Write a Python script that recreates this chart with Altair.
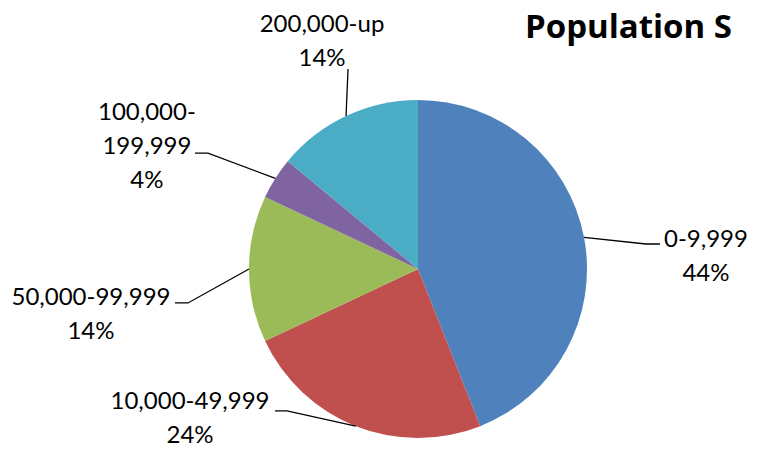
import math
import altair as alt
import pandas as pd

# ---- data ----
categories = ["0-9,999", "10,000-49,999", "50,000-99,999", "100,000-199,999", "200,000-up"]
shares = [44, 24, 14, 4, 14]  # percent
label_text = ["0-9,999", "10,000-49,999", "50,000-99,999", "100,000-\n199,999", "200,000-up"]
colors = ["#4F81BD", "#C0504D", "#9BBB59", "#8064A2", "#4BACC6"]
title_text = "Population S"

# ---- layout (in pie-radius units, pie centre = 0,0) ----
W, H = 744, 442
CX, CY, R = 410, 261, 169  # pie centre and radius in pixels within the plot
xdom = [-CX / R, (W - CX) / R]
ydom = [-(H - CY) / R, CY / R]
# elbow point, end point of leader line, and first-line centre of label block
elbow = [(1.349, 0.148), (-0.775, -0.840), (-1.361, -0.201), (-1.243, 0.686), (-0.414, 1.183)]
lend = [(1.432, 0.148), (-0.846, -0.840), (-1.438, -0.201), (-1.320, 0.686), (-0.414, 1.183)]
lblc = [(1.704, 0.172), (-1.349, -0.787), (-1.935, -0.172), (-1.604, 0.923), (-0.568, 1.444)]

total = sum(shares)
pie = pd.DataFrame({"cat": categories, "share": shares, "idx": list(range(len(shares)))})

# rim anchors at slice mid-angles
rows, lab_rows = [], []
cum = 0.0
for i, (c, s) in enumerate(zip(categories, shares)):
    mid = (cum + s / 2) / total * 2 * math.pi
    cum += s
    ax, ay = math.sin(mid), math.cos(mid)
    rows.append({"cat": c, "o": 0, "x": ax, "y": ay})
    rows.append({"cat": c, "o": 1, "x": elbow[i][0], "y": elbow[i][1]})
    rows.append({"cat": c, "o": 2, "x": lend[i][0], "y": lend[i][1]})
    lab_rows.append({"cat": c, "x": lblc[i][0], "y": lblc[i][1],
                     "txt": f"{label_text[i]}\n{s}%"})
lines = pd.DataFrame(rows)
labels = pd.DataFrame(lab_rows)

xs = alt.Scale(domain=xdom, nice=False, zero=False)
ys = alt.Scale(domain=ydom, nice=False, zero=False)

arcs = alt.Chart(pie).mark_arc(radius=R).encode(
    theta=alt.Theta("share:Q", stack=True),
    color=alt.Color("cat:N", scale=alt.Scale(domain=categories, range=colors), legend=None),
    order=alt.Order("idx:Q"),
    x=alt.X(datum=0, scale=xs, axis=None),
    y=alt.Y(datum=0, scale=ys, axis=None),
)

leaders = alt.Chart(lines).mark_line(color="#000000", strokeWidth=1.3).encode(
    x=alt.X("x:Q", scale=xs, axis=None),
    y=alt.Y("y:Q", scale=ys, axis=None),
    detail="cat:N",
    order="o:Q",
)

texts = alt.Chart(labels).mark_text(
    font="Lato", fontSize=24, lineBreak="\n", lineHeight=34,
    align="center", baseline="middle", color="#000000",
).encode(
    x=alt.X("x:Q", scale=xs, axis=None),
    y=alt.Y("y:Q", scale=ys, axis=None),
    text="txt:N",
)

title = alt.Chart(pd.DataFrame({"t": [title_text]})).mark_text(
    font="Open Sans", fontSize=33, fontWeight="bold", align="left", baseline="middle", color="#000000",
).encode(
    x=alt.value(517), y=alt.value(20), text="t:N",
)

chart = alt.layer(arcs, leaders, texts, title).properties(
    width=W, height=H, autosize="none", padding=0
).configure_view(stroke=None)

chart.save("out.html", embed_options={"renderer": "svg", "actions": False})
